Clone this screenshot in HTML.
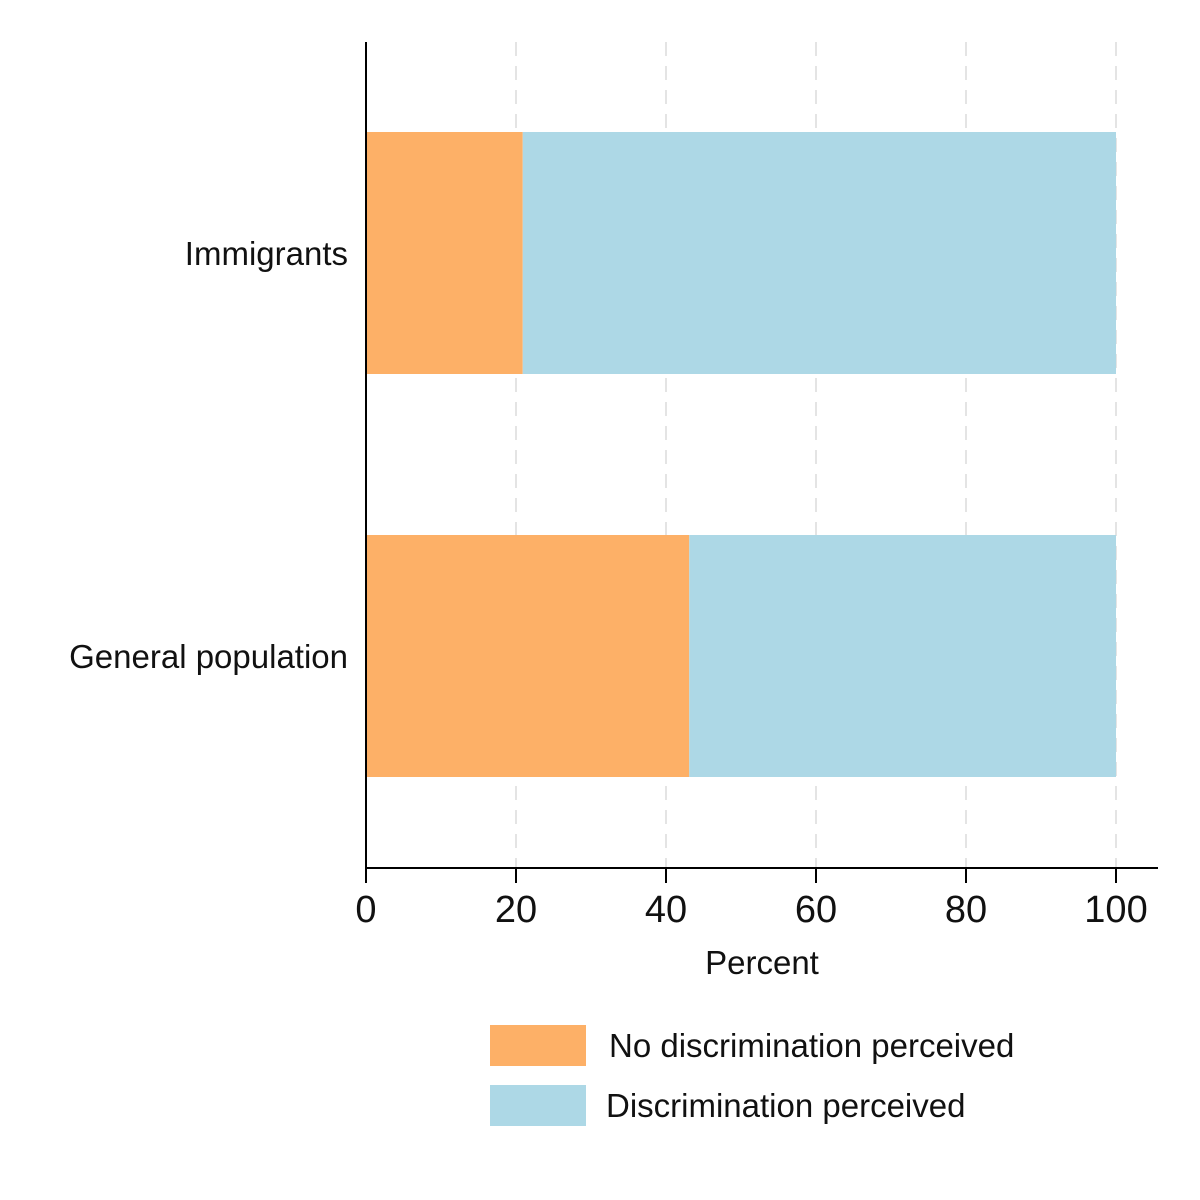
<!DOCTYPE html>
<html><head><meta charset="utf-8"><style>
body{margin:0;background:#fff;}
svg{display:block;font-family:"Liberation Sans",sans-serif;}
</style></head><body>
<svg id="chart" width="1200" height="1200" viewBox="0 0 1200 1200">
<rect width="1200" height="1200" fill="#fff"/>
<g id="grid"></g><g id="bars"></g><g id="axes"></g><g id="legend"></g>
</svg>
<script>
const categories = ["Immigrants", "General population"];
const noDiscrimination = [20.9, 43.1];
const discrimination = [79.1, 56.9];
const xTicks = [0, 20, 40, 60, 80, 100];
const seriesNames = ["No discrimination perceived", "Discrimination perceived"];
const colors = ["#fdb067", "#add8e6"];

const NS = "http://www.w3.org/2000/svg";
const x0 = 366, x1 = 1116, axisY = 868, topY = 42;
const xScale = v => x0 + (v / 100) * (x1 - x0);
const barCenters = [253, 656], barH = 242;
function mk(tag, attrs, parent, text) {
  const e = document.createElementNS(NS, tag);
  for (const k in attrs) e.setAttribute(k, attrs[k]);
  if (text !== undefined) e.textContent = text;
  document.getElementById(parent).appendChild(e);
  return e;
}
xTicks.forEach(t => {
  if (t === 0) return;
  const l = mk("line", {x1: xScale(t), x2: xScale(t), y1: topY, y2: axisY, stroke: "#e4e4e4", "stroke-width": 2, "stroke-dasharray": "14,10"}, "grid");
  
  
});
categories.forEach((c, i) => {
  const y = barCenters[i] - barH / 2;
  const a = mk("rect", {x: xScale(0), y: y, width: xScale(noDiscrimination[i]) - xScale(0), height: barH, fill: colors[0]}, "bars");
  
  
  const b = mk("rect", {x: xScale(noDiscrimination[i]), y: y, width: xScale(noDiscrimination[i] + discrimination[i]) - xScale(noDiscrimination[i]), height: barH, fill: colors[1]}, "bars");
  
  
  const t = mk("text", {x: 348, y: barCenters[i] + 12, "text-anchor": "end", "font-size": 33, fill: "#111"}, "axes", c);
  
  
});
const ya = mk("line", {x1: x0, x2: x0, y1: topY, y2: axisY + 1, stroke: "#000", "stroke-width": 2}, "axes");


const xa = mk("line", {x1: x0 - 1, x2: 1158, y1: axisY, y2: axisY, stroke: "#000", "stroke-width": 2}, "axes");


xTicks.forEach(t => {
  const tk = mk("line", {x1: xScale(t), x2: xScale(t), y1: axisY, y2: axisY + 15, stroke: "#000", "stroke-width": 2}, "axes");
  
  
  const lb = mk("text", {x: xScale(t), y: 922, "text-anchor": "middle", "font-size": 38, fill: "#111"}, "axes", String(t));
  
  
});
const xt = mk("text", {x: 762, y: 974, "text-anchor": "middle", "font-size": 33, fill: "#111"}, "axes", "Percent");


seriesNames.forEach((s, i) => {
  const y = 1025 + i * 60;
  const sw = mk("rect", {x: 490, y: y, width: 96, height: 41, fill: colors[i]}, "legend");
  
  
  const lt = mk("text", {x: i === 0 ? 609 : 606, y: y + 32, "font-size": 33, fill: "#111"}, "legend", s);
  
  
});
</script>
</body></html>
